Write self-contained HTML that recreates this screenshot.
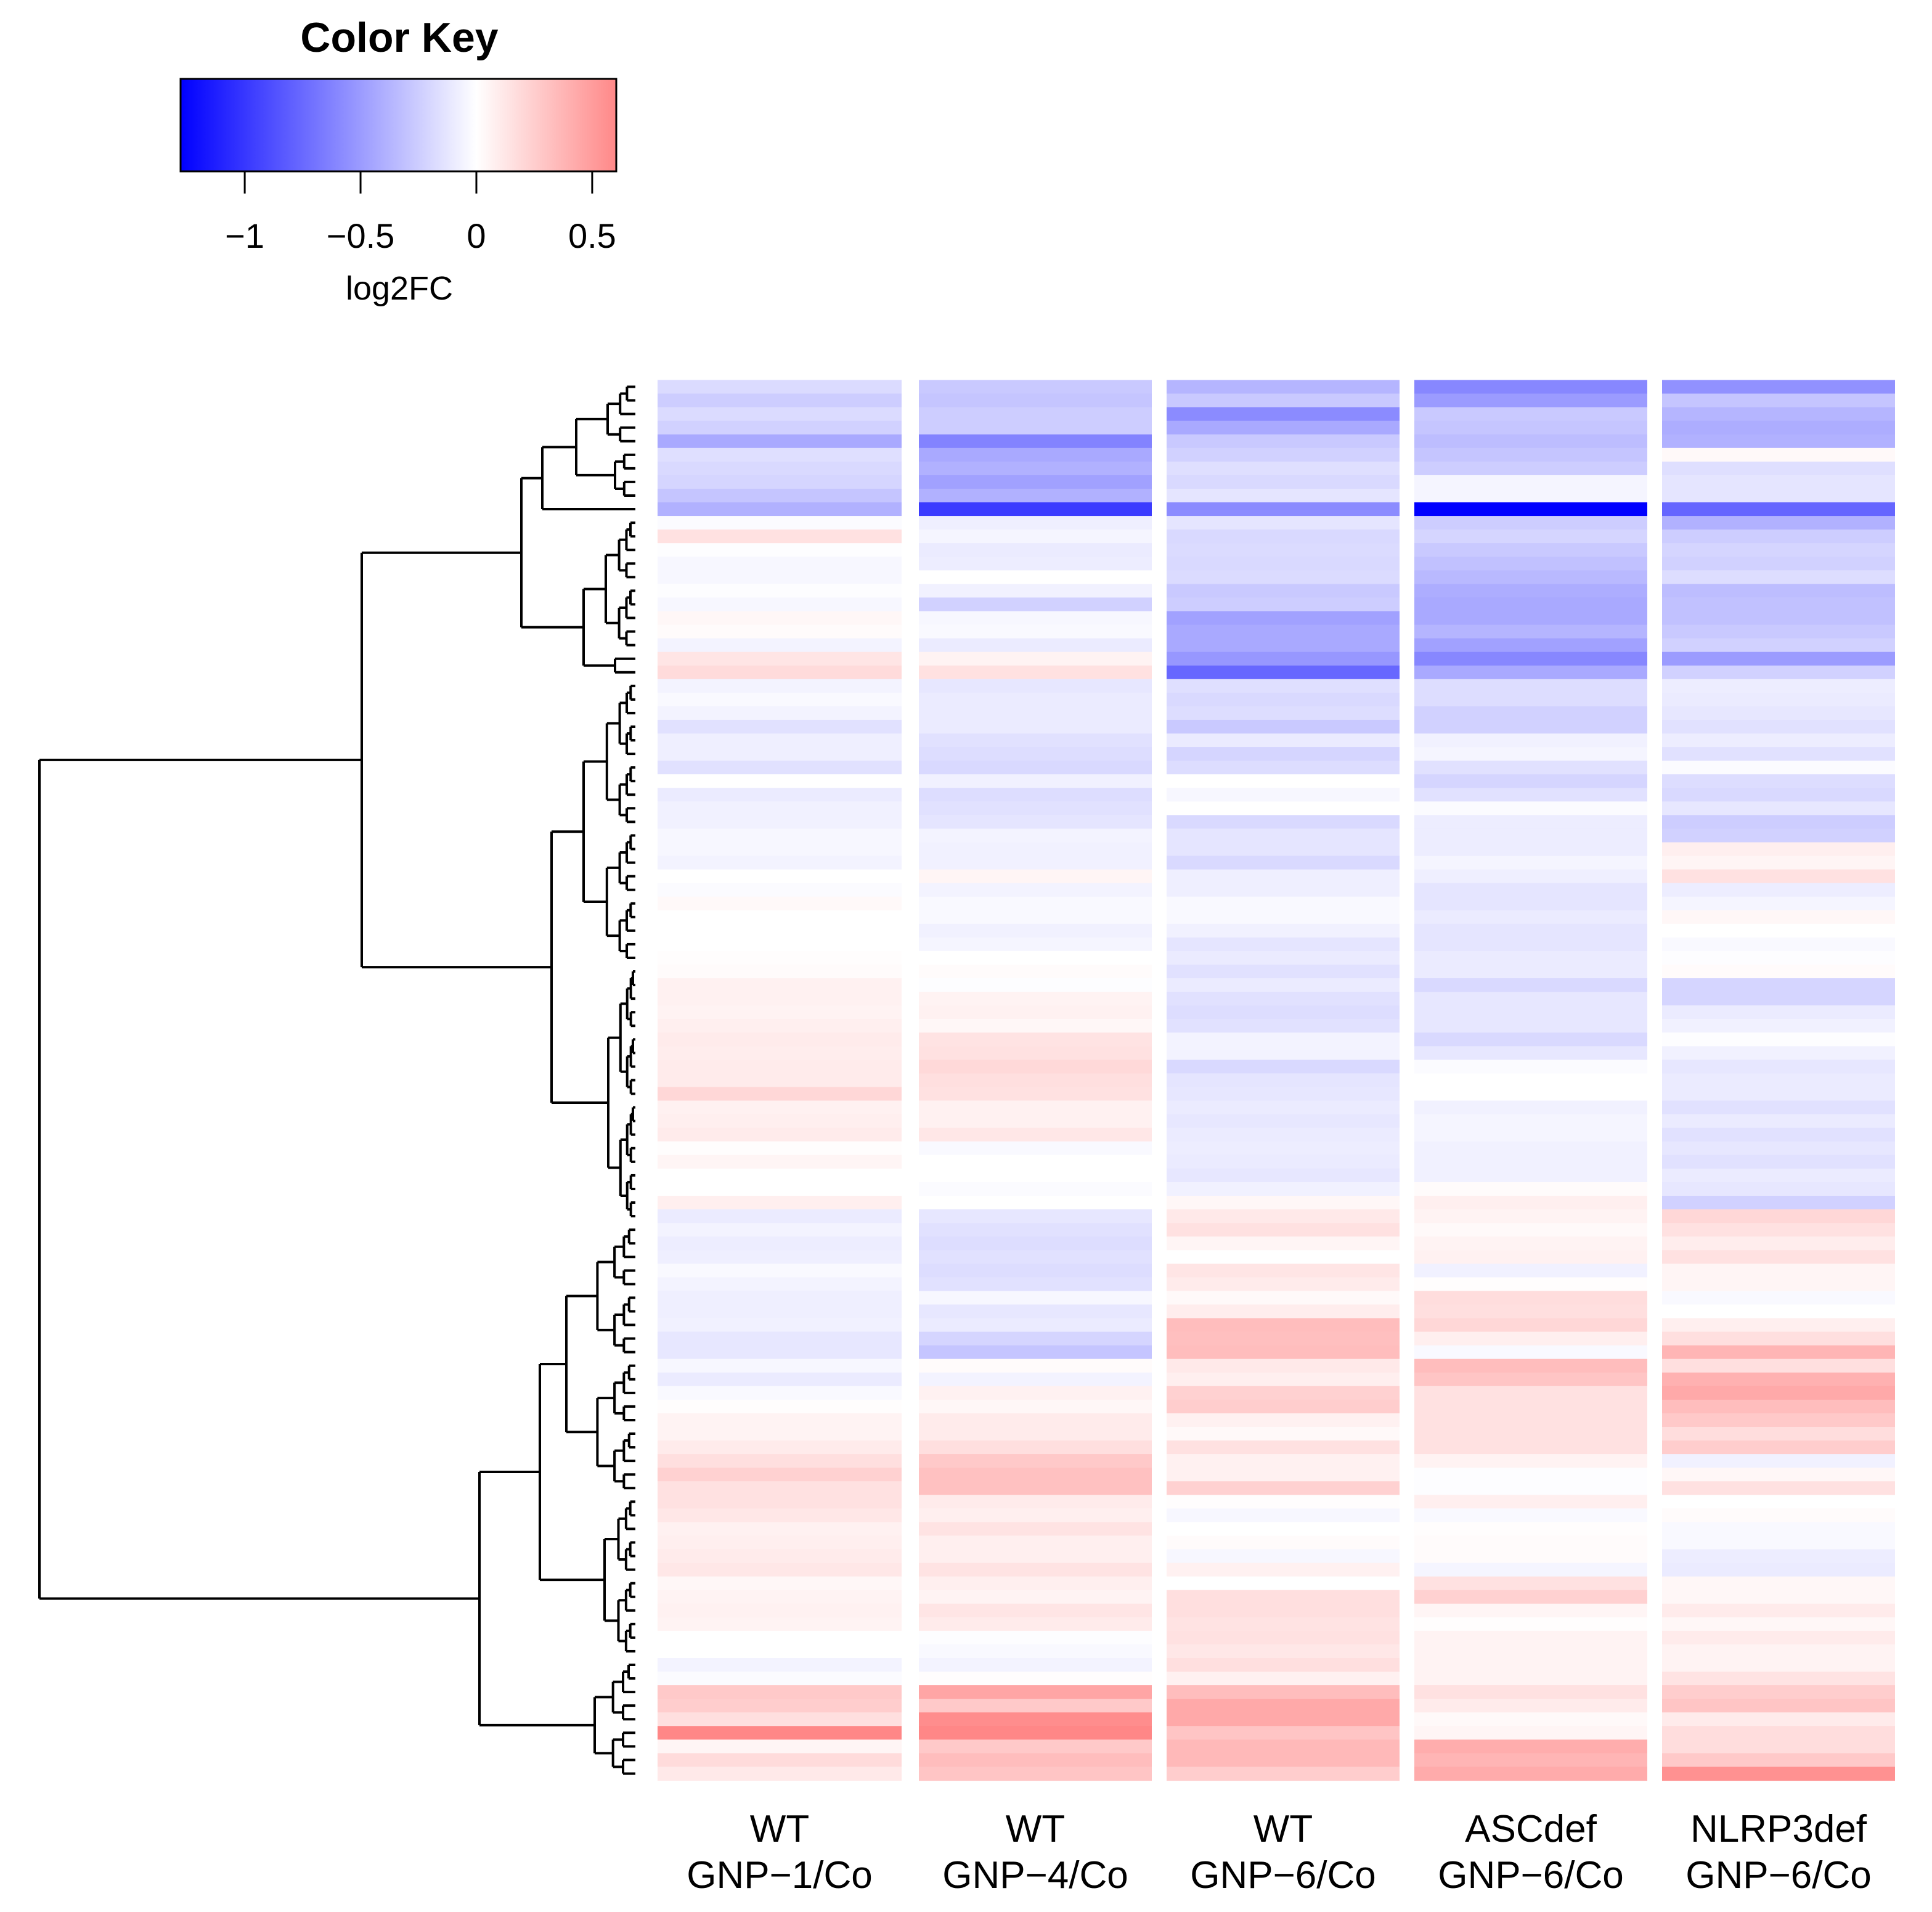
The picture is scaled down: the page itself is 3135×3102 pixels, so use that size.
<!DOCTYPE html>
<html><head><meta charset="utf-8"><style>
html,body{margin:0;padding:0;background:#fff}
svg{display:block}
text{font-family:"Liberation Sans",Arial,sans-serif;fill:#000}
</style></head><body>
<svg id="chart" width="3135" height="3102" viewBox="0 0 3135 3102" xmlns="http://www.w3.org/2000/svg">
<defs>
<linearGradient id="keygrad" x1="0" x2="1" y1="0" y2="0">
<stop offset="0" stop-color="#0000ff"/>
<stop offset="0.679" stop-color="#ffffff"/>
<stop offset="1" stop-color="#ff8888"/>
</linearGradient>
</defs>
<g>
<text x="648" y="84" font-size="68" font-weight="bold" text-anchor="middle">Color Key</text>
<rect x="293" y="128" width="707" height="150" fill="url(#keygrad)" stroke="#000" stroke-width="3"/>
<g id="keyticks"></g>
<text x="648" y="486" font-size="54" text-anchor="middle">log2FC</text>
</g>
<g id="cells"></g>
<g id="dendro" stroke="#000" stroke-width="4" fill="none"></g>
<g id="collabels"></g>
</svg>
<script>
const colLine1 = ["WT","WT","WT","ASCdef","NLRP3def"];
const colLine2 = ["GNP\u22121/Co","GNP\u22124/Co","GNP\u22126/Co","GNP\u22126/Co","GNP\u22126/Co"];
const keyTicks = [-1,-0.5,0,0.5];
const keyTickLabels = ["\u22121","\u22120.5","0","0.5"];
const keyMin = -1.277, keyMax = 0.604;
const col0 = [-0.18,-0.25,-0.18,-0.23,-0.43,-0.16,-0.19,-0.21,-0.29,-0.39,-0.02,0.15,-0.01,-0.04,-0.04,-0.01,-0.04,0.04,0.02,-0.06,0.13,0.18,-0.06,-0.03,-0.06,-0.15,
-0.08,-0.08,-0.15,0,-0.1,-0.07,-0.07,-0.04,-0.04,-0.06,0,-0.02,0.03,0,0,0,0.01,0.02,0.07,0.07,0.06,0.08,0.1,0.09,0.1,0.1,
0.2,0.07,0.08,0.1,0.01,0.05,0,0,0.08,-0.1,-0.06,-0.09,-0.08,-0.03,-0.06,-0.08,-0.08,-0.07,-0.12,-0.12,-0.04,-0.1,-0.03,0.01,0.06,0.06,
0.1,0.16,0.23,0.15,0.15,0.12,0.07,0.08,0.1,0.12,0.04,0.06,0.07,0.06,0,0,-0.06,-0.02,0.27,0.25,0.16,0.6,0.05,0.18,0.11];
const col1 = [-0.27,-0.29,-0.25,-0.25,-0.62,-0.43,-0.39,-0.47,-0.39,-0.98,-0.08,-0.05,-0.1,-0.09,0,-0.07,-0.23,-0.04,-0.03,-0.1,0.06,0.15,-0.12,-0.1,-0.1,-0.1,
-0.15,-0.17,-0.19,-0.07,-0.17,-0.15,-0.13,-0.06,-0.07,-0.07,0.05,-0.06,-0.03,-0.03,-0.07,-0.05,0,0.02,-0.01,0.06,0.07,0.04,0.14,0.15,0.19,0.16,
0.15,0.07,0.07,0.12,-0.03,0,0,-0.02,0,-0.12,-0.15,-0.17,-0.15,-0.17,-0.15,-0.04,-0.12,-0.1,-0.21,-0.29,0.02,-0.06,0.07,0.04,0.1,0.1,
0.16,0.27,0.31,0.31,0.1,0.08,0.14,0.08,0.08,0.14,0.08,0.06,0.13,0.1,-0.01,-0.03,-0.06,0.01,0.45,0.27,0.57,0.6,0.27,0.33,0.29];
const col2 = [-0.37,-0.27,-0.58,-0.43,-0.27,-0.23,-0.16,-0.19,-0.13,-0.58,-0.13,-0.19,-0.18,-0.19,-0.18,-0.27,-0.25,-0.47,-0.43,-0.43,-0.52,-0.76,-0.16,-0.19,-0.17,-0.27,
-0.1,-0.21,-0.17,0,-0.04,0,-0.19,-0.13,-0.13,-0.19,-0.08,-0.08,-0.03,-0.03,-0.07,-0.13,-0.1,-0.15,-0.1,-0.15,-0.17,-0.15,-0.06,-0.06,-0.19,-0.13,
-0.12,-0.1,-0.12,-0.1,-0.09,-0.1,-0.12,-0.07,0.04,0.11,0.15,0.05,0,0.13,0.1,0.03,0.09,0.33,0.32,0.33,0.11,0.08,0.23,0.25,0.07,0.03,
0.15,0.07,0.07,0.23,0.01,-0.04,0,0.02,-0.04,0.07,0,0.16,0.16,0.14,0.15,0.12,0.16,0.07,0.33,0.43,0.43,0.29,0.35,0.35,0.25];
const col3 = [-0.6,-0.5,-0.27,-0.29,-0.33,-0.29,-0.25,-0.05,-0.05,-1.28,-0.25,-0.21,-0.27,-0.31,-0.35,-0.41,-0.43,-0.43,-0.37,-0.47,-0.6,-0.43,-0.17,-0.17,-0.23,-0.23,
-0.07,-0.05,-0.15,-0.21,-0.15,-0.02,-0.09,-0.09,-0.09,-0.05,-0.08,-0.13,-0.13,-0.1,-0.13,-0.13,-0.1,-0.1,-0.19,-0.12,-0.12,-0.12,-0.19,-0.12,-0.02,0,
0,-0.07,-0.05,-0.05,-0.07,-0.07,-0.07,0.02,0.08,0.06,0.03,0.06,0.07,-0.07,0.01,0.17,0.16,0.2,0.08,-0.03,0.33,0.29,0.15,0.15,0.15,0.15,
0.15,0.06,-0.01,-0.01,0.08,-0.03,0.01,0.02,0.02,-0.05,0.15,0.23,0.05,0.01,0.06,0.06,0.06,0.06,0.15,0.1,0.03,0.05,0.41,0.37,0.42];
const col4 = [-0.55,-0.29,-0.37,-0.41,-0.39,0.03,-0.16,-0.13,-0.13,-0.77,-0.39,-0.25,-0.21,-0.23,-0.17,-0.33,-0.31,-0.31,-0.27,-0.23,-0.5,-0.23,-0.09,-0.1,-0.12,-0.15,
-0.09,-0.15,-0.02,-0.17,-0.19,-0.12,-0.25,-0.23,0.08,0.05,0.15,-0.09,-0.05,0.04,0,-0.03,-0.01,0.02,-0.21,-0.21,-0.1,-0.07,-0.01,-0.07,-0.12,-0.1,
-0.1,-0.15,-0.1,-0.15,-0.12,-0.15,-0.1,-0.12,-0.23,0.2,0.15,0.09,0.15,0.05,0.05,-0.03,0,0.08,0.16,0.37,0.16,0.39,0.43,0.33,0.27,0.17,
0.25,-0.07,0.04,0.15,0,0.02,-0.03,-0.03,-0.09,-0.1,0.04,0.04,0.1,0.04,0.1,0.06,0.06,0.14,0.25,0.29,0.1,0.17,0.17,0.27,0.55];
const series = [col0,col1,col2,col3,col4];

const NS = "http://www.w3.org/2000/svg";
function mk(tag, attrs, parent){const e=document.createElementNS(NS,tag);for(const k in attrs)e.setAttribute(k,attrs[k]);parent.appendChild(e);return e;}
const keyX0 = 293, keyX1 = 1000;
function keyScale(v){return keyX0 + (v-keyMin)/(keyMax-keyMin)*(keyX1-keyX0);}
const colX = [1067,1491,1893,2295,2697];
const colW = [396,378,378,378,378];
const rowTop = 616.5, rowBottom = 2888.5;
const nRows = col0.length;
const rowH = (rowBottom-rowTop)/nRows;
function rowY(r){return rowTop + r*rowH;}
function colorOf(v){
  let f, c;
  if (v < 0){ f = Math.min(1, v/keyMin); c = Math.round(255*(1-f)); return `rgb(${c},${c},255)`; }
  f = Math.min(1, v/1.277); c = Math.round(255*(1-f)); return `rgb(255,${c},${c})`;
}
const kt = document.getElementById('keyticks');
keyTicks.forEach((t,i)=>{
  const x = keyScale(t);
  const l = mk('line',{x1:x,x2:x,y1:278,y2:314,stroke:'#000','stroke-width':3},kt);
  
  
  const tx = mk('text',{x:x,y:402,'font-size':56,'text-anchor':'middle'},kt);
  tx.textContent = keyTickLabels[i];
  
  
});
const cg = document.getElementById('cells');
series.forEach((vals,ci)=>{
  vals.forEach((v,r)=>{
    const rc = mk('rect',{x:colX[ci],y:rowY(r),width:colW[ci],height:rowH+0.6,fill:colorOf(v)},cg);
    
    
  });
});
const lg = document.getElementById('collabels');
colLine1.forEach((s,i)=>{
  const cx = colX[i]+colW[i]/2;
  const t1 = mk('text',{x:cx,y:2988,'font-size':62,'text-anchor':'middle'},lg);
  t1.textContent = s;
  
  
  const t2 = mk('text',{x:cx,y:3063,'font-size':62,'text-anchor':'middle'},lg);
  t2.textContent = colLine2[i];
  
  
});
const LEAFX = 1031;
function N(x,a,b){return {x:x,kids:[a,b]};}
function R(lo,hi,x){return {lo:lo,hi:hi,x:x};}
function L(r){return {lo:r,hi:r};}
const tree = N(64,
  N(587,
    N(846,
      N(880, N(935, R(0,4,986), R(5,8,998)), L(9)),
      N(947, R(10,19,983), R(20,21,998))),
    N(895, R(22,42,947), R(43,61,987))),
  N(778,
    N(876, R(62,81,919), R(82,93,981)),
    R(94,102,965)));
const dg = document.getElementById('dendro');
function seg(x1,y1,x2,y2){
  const l = mk('line',{x1:x1,y1:y1,x2:x2,y2:y2},dg);
  
  
}
function draw(n){
  if (n.kids){
    const a = draw(n.kids[0]), b = draw(n.kids[1]);
    seg(n.x,a.y,n.x,b.y); seg(n.x,a.y,a.x,a.y); seg(n.x,b.y,b.x,b.y);
    return {x:n.x,y:(a.y+b.y)/2};
  }
  if (n.lo===n.hi) return {x:LEAFX,y:rowY(n.lo)+rowH/2};
  const x = n.x;
  const mid = Math.floor((n.lo+n.hi)/2);
  const cx = x + (LEAFX-x)*0.45;
  const a = draw(R(n.lo,mid,cx)), b = draw(R(mid+1,n.hi,cx));
  seg(x,a.y,x,b.y); seg(x,a.y,a.x,a.y); seg(x,b.y,b.x,b.y);
  return {x:x,y:(a.y+b.y)/2};
}
const rootRes = draw(tree);
</script>
</body></html>
